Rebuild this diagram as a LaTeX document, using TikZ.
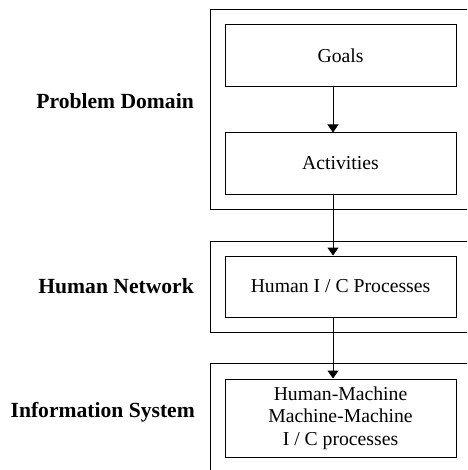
\documentclass[tikz,border=0pt]{standalone}
\usepackage{fontspec}
\setmainfont{Liberation Serif}
\usetikzlibrary{arrows.meta}
\begin{document}
\begin{tikzpicture}[x=1pt,y=-1pt,
  inbox/.style={draw,line width=1pt,minimum width=231pt,inner sep=0pt,align=center,
    font=\fontsize{19.7}{22.5}\selectfont},
  outbox/.style={draw,line width=1pt},
  lab/.style={anchor=base east,font=\bfseries\fontsize{21.6}{24}\selectfont,inner sep=0pt},
  arr/.style={line width=1pt,-{Triangle[length=8pt,width=11pt]}}]
\clip (0,0) rectangle (467,470);
\fill[white] (0,0) rectangle (467,470);
\draw[outbox] (480,10) -- (210,10) -- (210,209) -- (480,209);
\draw[outbox] (480,241) -- (210,241) -- (210,332) -- (480,332);
\draw[outbox] (480,363) -- (210,363) -- (210,480);
\node[inbox,minimum height=62pt] (goals) at (340.5,56) {Goals};
\node[inbox,minimum height=61pt] (act) at (340.5,163.5) {Activities};
\node[inbox,minimum height=61pt] (hum) at (340.5,286.5) {Human I / C Processes};
\node[inbox,minimum height=78pt] (hm) at (340.5,418) {Human-Machine\\Machine-Machine\\I / C processes};
\node[lab] (pd) at (194,109) {Problem Domain};
\node[lab] (hn) at (194,293) {Human Network};
\node[lab] (is) at (195,417) {Information System};
\draw[arr] ([xshift=-7.5pt]goals.south) -- ([xshift=-7.5pt]act.north);
\draw[arr] ([xshift=-7.5pt]act.south) -- ([xshift=-7.5pt]hum.north);
\draw[arr] ([xshift=-7.5pt]hum.south) -- ([xshift=-7.5pt]hm.north);
\end{tikzpicture}
\end{document}
